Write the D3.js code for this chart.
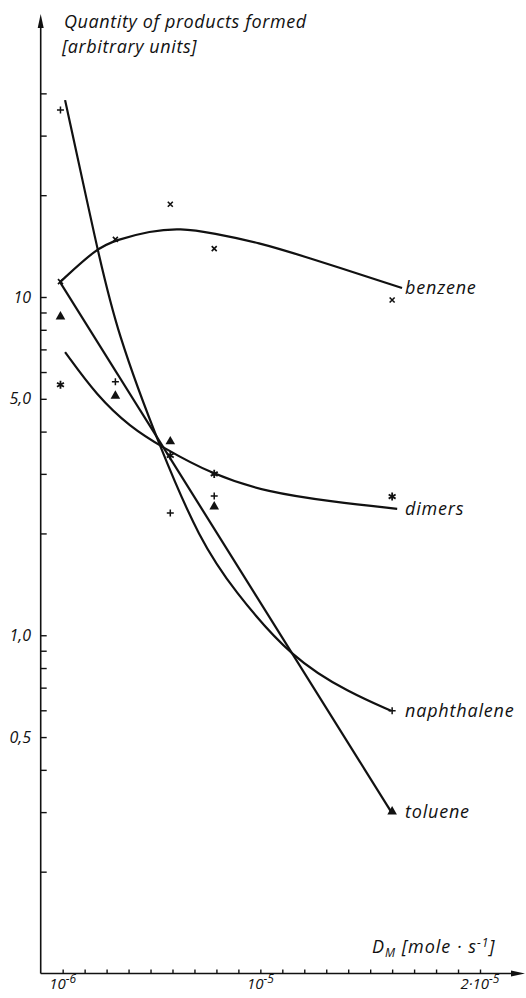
<!DOCTYPE html>
<html lang="en">
<head>
<meta charset="utf-8">
<title>Quantity of products formed vs D_M</title>
<script src="https://cdnjs.cloudflare.com/ajax/libs/d3/7.8.5/d3.min.js"></script>
<style type="text/css">
	body { margin: 0; background: #fff; }
	svg text {
		font-family: "Open Sans", "DejaVu Sans", sans-serif;
		font-style: italic;
		font-weight: 400;
		fill: #111;
	}
	.fit { fill: none; stroke: #111; stroke-width: 2.2; }
	.axis-line { stroke: #111; stroke-width: 1.6; fill: none; }
	.tick line { stroke: #111; stroke-width: 1.4; }
</style>
</head>
<body>
<script type="text/javascript">
// D_M values of the measurements (units of 1e-6 mole/s)
var dm = [0.9, 3.4, 5.9, 7.9, 16];

// measured quantities (arbitrary units), null = no point
var benzene     = [11.1, 14.8, 18.8, 13.9, 9.8];
var dimers      = [5.5, null, 3.4, 3.0, 2.57];
var naphthalene = [35.7, 5.62, 2.30, 2.58, 0.598];
var toluene     = [8.75, 5.1, 3.74, 2.40, 0.301];

// hand-drawn fit curves, knots
var benzeneFitX = [0.88, 2.56, 3.43, 4.98, 6.34, 7.85, 9.99, 11.81, 16.45];
var benzeneFitY = [11.07, 13.96, 14.74, 15.67, 15.99, 15.46, 14.44, 13.31, 10.63];
var naphFitX    = [1.11, 2.56, 3.43, 5.52, 7.25, 8.76, 11.49, 14.08, 15.95];
var naphFitY    = [38.2, 14.05, 7.99, 3.46, 1.915, 1.363, 0.846, 0.676, 0.598];
var dimersFitX  = [1.11, 2.56, 4.07, 5.52, 7.85, 10.31, 13.31, 16.23];
var dimersFitY  = [6.87, 5.10, 4.13, 3.60, 2.98, 2.65, 2.48, 2.365];
var tolueneFitX = [0.88, 15.95];
var tolueneFitY = [11.07, 0.301];

// axis ticks
var yMinorTicks = [0.2, 0.3, 0.4, 0.5, 0.6, 0.7, 0.8, 0.9, 1, 2, 3, 4, 5, 6, 7, 8, 9, 10, 20, 30, 40];
var yLabelValues = [10, 5, 1, 0.5];
var yLabelTexts  = ["10", "5,0", "1,0", "0,5"];
var xMinorTicks = [1, 2, 3, 4, 5, 6, 7, 8, 9, 10, 11, 12, 13, 14, 15, 16, 17, 18, 19, 20];
var xLabelValues = [1, 10, 20];
var xLabelBase   = ["10", "10", "2·10"];
var xLabelExp    = ["-6", "-5", "-5"];

var curveNames = ["benzene", "dimers", "naphthalene", "toluene"];

var width = 526, height = 998;

var svg = d3.select("body")
	.append("svg")
	.attr("width", width)
	.attr("height", height);

// linear x axis starting at 0, log y axis (0.1 sits on the x axis)
var xScale = d3.scaleLinear()
	.domain([0, 20])
	.range([40.7, 480]);

var yScale = d3.scaleLog()
	.domain([0.1, 10])
	.range([973.5, 297]);

var x0 = xScale(0), y0 = yScale(0.1);

// axis lines with arrows
svg.append("line").attr("class", "axis-line")
	.attr("x1", x0).attr("y1", y0).attr("x2", x0).attr("y2", 24);
svg.append("path")
	.attr("d", "M" + x0 + ",14 L" + (x0 - 3) + ",28 L" + (x0 + 3) + ",28 Z")
	.style("fill", "#111");

svg.append("line").attr("class", "axis-line")
	.attr("x1", x0).attr("y1", y0).attr("x2", 515).attr("y2", y0);
svg.append("path")
	.attr("d", "M525," + y0 + " L511," + (y0 - 3) + " L511," + (y0 + 3) + " Z")
	.style("fill", "#111");

// ticks
var yAxis = d3.axisRight(yScale)
	.tickValues(yMinorTicks)
	.tickSize(6)
	.tickFormat("");
svg.append("g")
	.attr("transform", "translate(" + x0 + ",0)")
	.call(yAxis)
	.call(function(g) { g.select(".domain").remove(); });

var xAxis = d3.axisTop(xScale)
	.tickValues(xMinorTicks)
	.tickSize(4)
	.tickFormat("");
svg.append("g")
	.attr("transform", "translate(0," + y0 + ")")
	.call(xAxis)
	.call(function(g) { g.select(".domain").remove(); });

// y labels
svg.selectAll(".ylab")
	.data(yLabelValues)
	.enter()
	.append("text")
	.attr("class", "ylab")
	.attr("x", 31)
	.attr("y", function(d) { return yScale(d); })
	.attr("dy", "0.35em")
	.attr("text-anchor", "end")
	.style("font-size", "16px")
	.text(function(d, i) { return yLabelTexts[i]; });

// x labels with exponents
var xl = svg.selectAll(".xlab")
	.data(xLabelValues)
	.enter()
	.append("text")
	.attr("class", "xlab")
	.attr("x", function(d) { return xScale(d); })
	.attr("y", 989)
	.attr("text-anchor", "middle")
	.style("font-size", "15px");
xl.append("tspan").text(function(d, i) { return xLabelBase[i]; });
xl.append("tspan")
	.attr("dy", -6)
	.style("font-size", "12px")
	.text(function(d, i) { return xLabelExp[i]; });

// axis titles
svg.append("text")
	.attr("x", 64).attr("y", 28)
	.style("font-size", "18px")
	.style("letter-spacing", "0.6px")
	.text("Quantity of products formed");
svg.append("text")
	.attr("x", 62).attr("y", 53)
	.style("font-size", "18px")
	.style("letter-spacing", "0.6px")
	.text("[arbitrary units]");

var xt = svg.append("text")
	.attr("x", 372).attr("y", 953)
	.style("font-size", "18px")
	.style("letter-spacing", "1px");
xt.append("tspan").text("D");
xt.append("tspan").attr("dy", 4).style("font-size", "12px").text("M");
xt.append("tspan").attr("dy", -4).text(" [mole · s");
xt.append("tspan").attr("dy", -6).style("font-size", "12px").text("-1");
xt.append("tspan").attr("dy", 6).text("]");

// fit curves
var fits = [
	[benzeneFitX, benzeneFitY],
	[dimersFitX, dimersFitY],
	[naphFitX, naphFitY],
	[tolueneFitX, tolueneFitY]
];

var line = d3.line()
	.x(function(d) { return xScale(d[0]); })
	.y(function(d) { return yScale(d[1]); })
	.curve(d3.curveBasis);

fits.forEach(function(f, k) {
	var pts = f[0].map(function(v, i) { return [v, f[1][i]]; });
	svg.append("path")
		.attr("class", "fit")
		.attr("d", line(pts));

	// curve name at the right end
	var last = pts[pts.length - 1];
	svg.append("text")
		.attr("x", 405)
		.attr("y", yScale(last[1]))
		.attr("dy", "0.35em")
		.style("font-size", "18px")
		.style("letter-spacing", "0.8px")
		.text(curveNames[k]);
});

// markers
function pointsOf(series) {
	return dm.map(function(v, i) { return [v, series[i]]; })
		.filter(function(p) { return p[1] != null; });
}

function place(d) {
	return "translate(" + xScale(d[0]) + "," + yScale(d[1]) + ")";
}

// benzene: small x
svg.selectAll(".benz")
	.data(pointsOf(benzene))
	.enter()
	.append("path")
	.attr("transform", place)
	.attr("d", "M-2.5,-2.5L2.5,2.5M-2.5,2.5L2.5,-2.5")
	.style("stroke", "#111")
	.style("stroke-width", 1.6);

// naphthalene: plus
svg.selectAll(".naph")
	.data(pointsOf(naphthalene))
	.enter()
	.append("path")
	.attr("transform", place)
	.attr("d", "M-3.5,0H3.5M0,-3.5V3.5")
	.style("stroke", "#111")
	.style("stroke-width", 1.5);

// toluene: filled triangle
svg.selectAll(".tol")
	.data(pointsOf(toluene))
	.enter()
	.append("path")
	.attr("transform", place)
	.attr("d", d3.symbol().type(d3.symbolTriangle).size(40))
	.style("fill", "#111");

// dimers: asterisk
svg.selectAll(".dim")
	.data(pointsOf(dimers))
	.enter()
	.append("path")
	.attr("transform", place)
	.attr("d", d3.symbol().type(d3.symbolAsterisk).size(45))
	.style("fill", "none")
	.style("stroke", "#111")
	.style("stroke-width", 1.8);
</script>
</body>
</html>
